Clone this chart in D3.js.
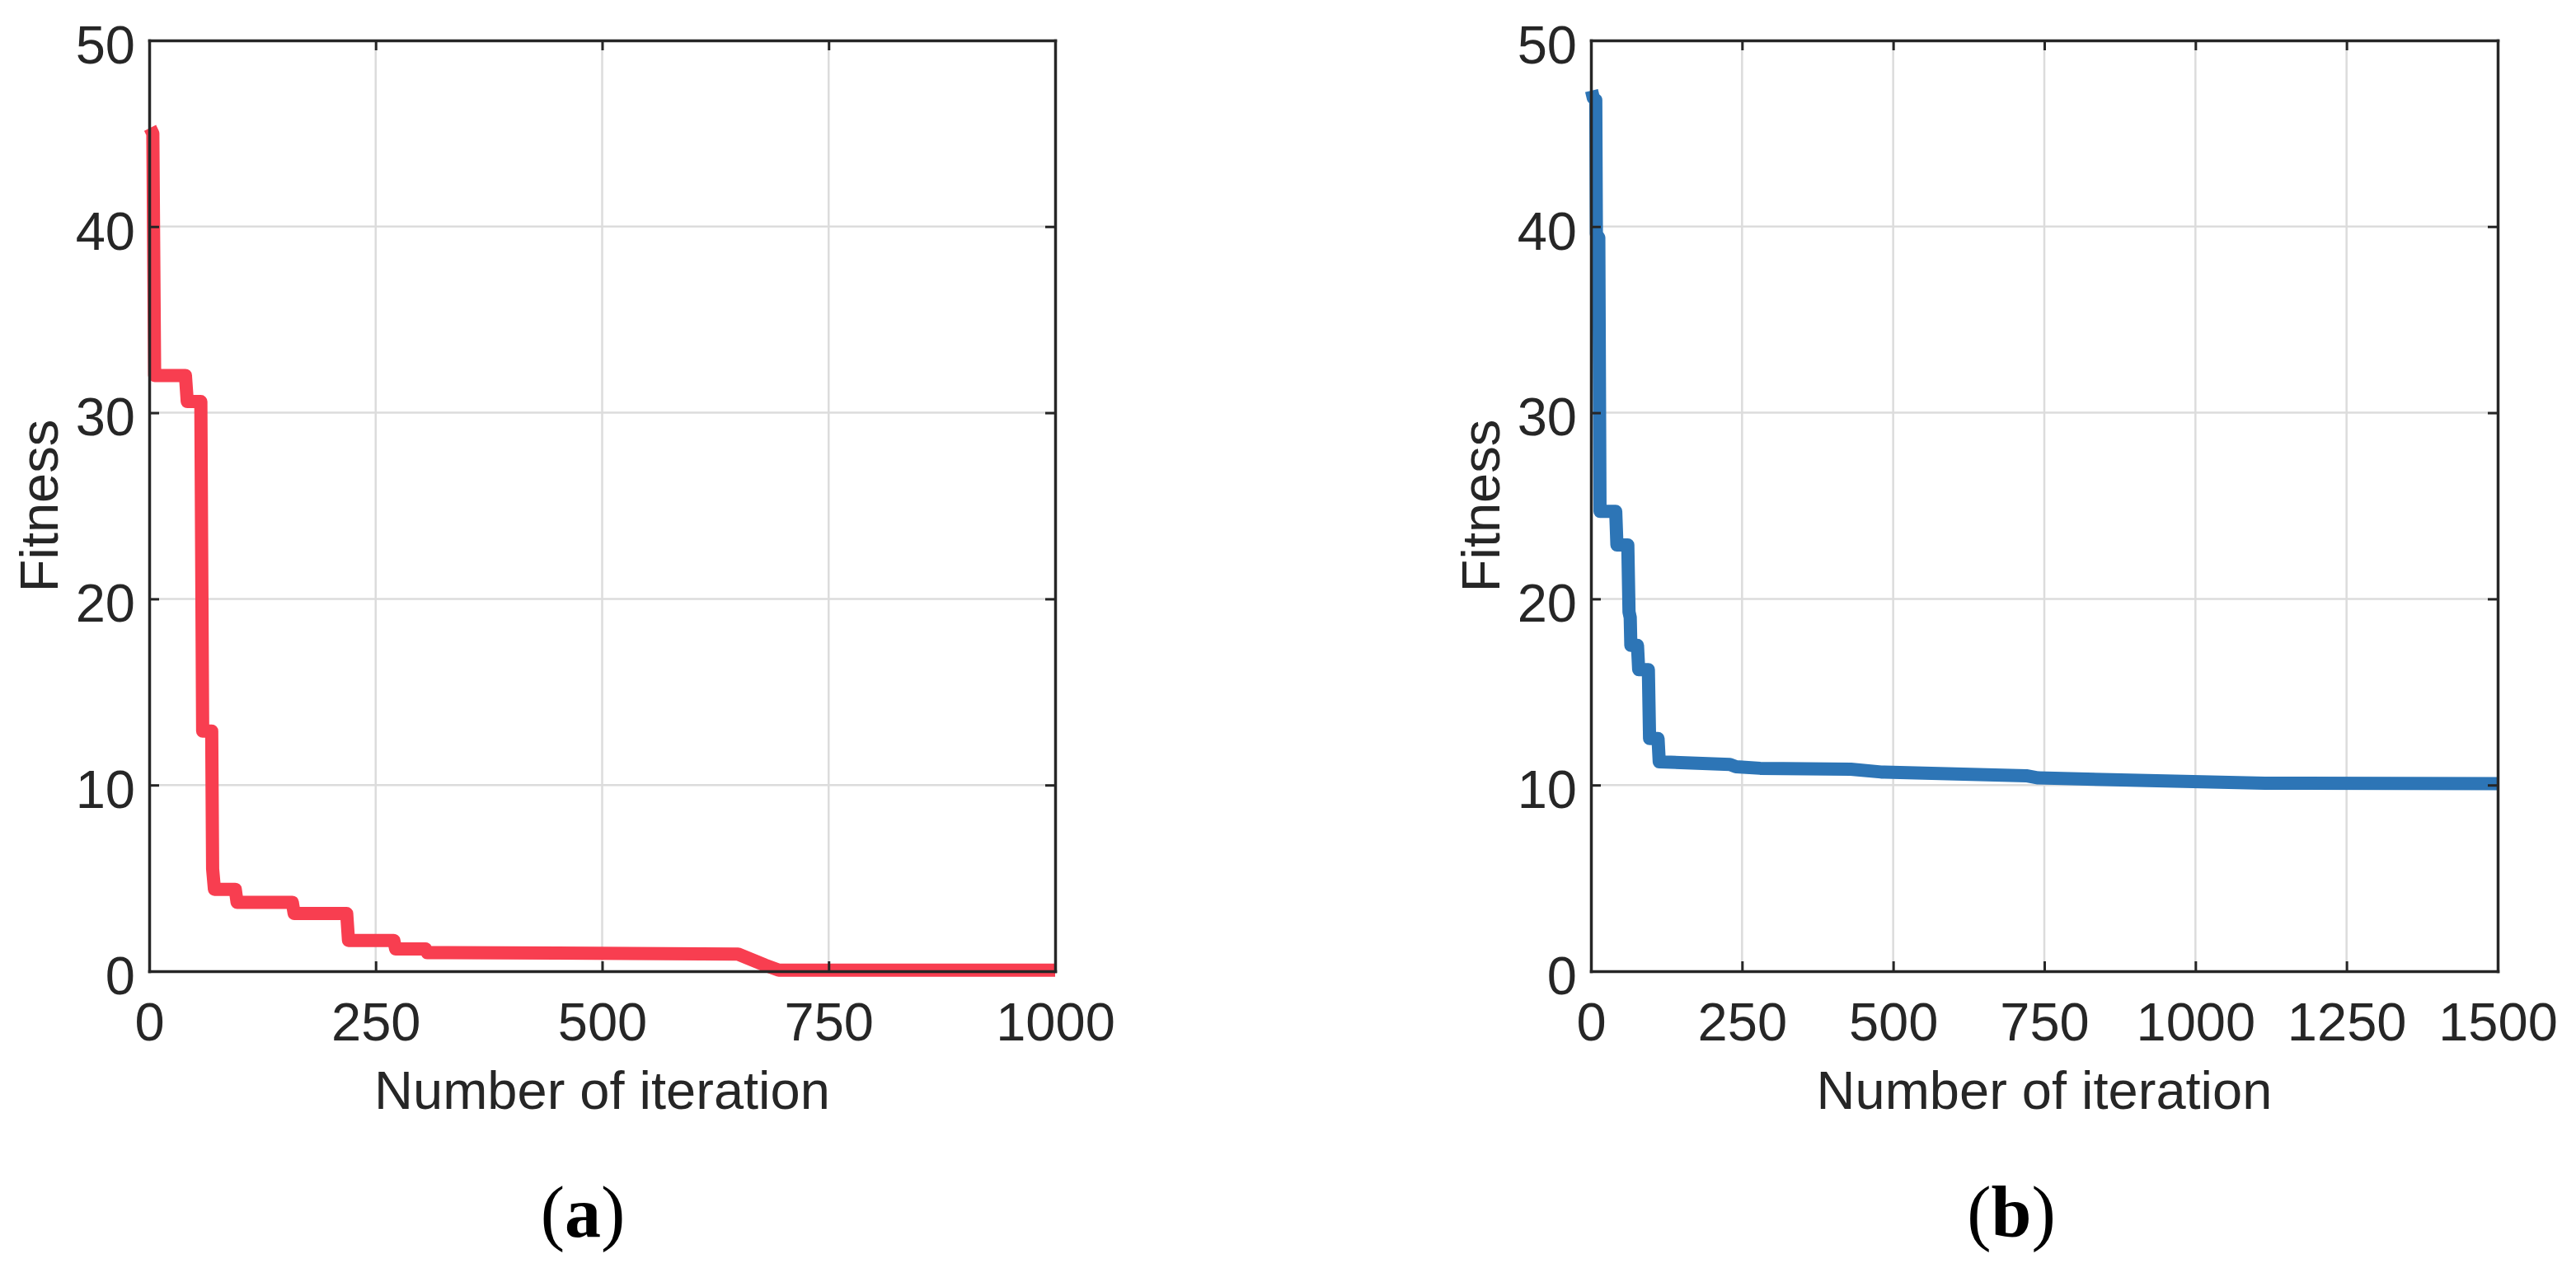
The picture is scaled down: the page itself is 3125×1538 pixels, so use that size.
<!DOCTYPE html>
<html>
<head>
<meta charset="utf-8">
<script src="https://cdn.jsdelivr.net/npm/d3@7"></script>
<style>
  html, body { margin: 0; padding: 0; background: #fff; }
  svg { display: block; }
  text { font-family: "Liberation Sans", Arial, Helvetica, sans-serif; fill: #262626; }
</style>
</head>
<body>
<svg id="chart" width="3125" height="1538"></svg>
<script>
// ---- data ----
const iterA = [1, 4, 6, 40, 42, 57, 59, 69, 70, 72, 95, 97, 158, 160, 218, 220, 270, 272, 305, 307, 330, 450, 650, 660, 670, 680, 695, 1000];
const fitA  = [45.3, 45.0, 32.0, 32.0, 30.6, 30.6, 12.9, 12.9, 5.5, 4.4, 4.4, 3.7, 3.7, 3.1, 3.1, 1.65, 1.65, 1.2, 1.2, 1.0, 1.0, 0.97, 0.92, 0.72, 0.52, 0.32, 0.05, 0.05];

const iterB = [1, 4, 8, 9, 13, 15, 41, 43, 61, 63, 65, 66, 77, 79, 95, 97, 111, 113, 230, 240, 280, 430, 480, 720, 740, 1115, 1500];
const fitB  = [47.3, 46.9, 46.8, 39.6, 39.4, 24.7, 24.7, 22.9, 22.9, 19.3, 19.0, 17.5, 17.5, 16.2, 16.2, 12.5, 12.5, 11.25, 11.1, 10.98, 10.9, 10.85, 10.7, 10.5, 10.38, 10.1, 10.08];

const yTicks  = [0, 10, 20, 30, 40, 50];
const xTicksA = [0, 250, 500, 750, 1000];
const xTicksB = [0, 250, 500, 750, 1000, 1250, 1500];

const panels = [
  { iter: iterA, fit: fitA, xMax: 1000, xTicks: xTicksA, color: "#F83E50", left: 181, right: 1280, label: "a", labelX: 707 },
  { iter: iterB, fit: fitB, xMax: 1500, xTicks: xTicksB, color: "#2D75B6", left: 1930, right: 3030, label: "b", labelX: 2440 }
];

const svg = d3.select("#chart");
const plotTop = 49, plotBottom = 1178;
const axisColor = "#262626";
const fs = 65;

panels.forEach(p => {
  const x = d3.scaleLinear().domain([0, p.xMax]).range([p.left, p.right]);
  const y = d3.scaleLinear().domain([0, 50]).range([plotBottom, plotTop]);
  const g = svg.append("g");

  // gridlines
  g.append("g").selectAll("line").data(p.xTicks.slice(1, -1)).join("line")
    .attr("x1", d => x(d)).attr("x2", d => x(d))
    .attr("y1", plotTop).attr("y2", plotBottom)
    .attr("stroke", "#dcdcdc").attr("stroke-width", 2.5);
  g.append("g").selectAll("line").data(yTicks.slice(1, -1)).join("line")
    .attr("x1", p.left).attr("x2", p.right)
    .attr("y1", d => y(d)).attr("y2", d => y(d))
    .attr("stroke", "#dcdcdc").attr("stroke-width", 2.5);

  // data line
  const pts = p.iter.map((v, i) => [v, p.fit[i]]);
  g.append("path").datum(pts)
    .attr("fill", "none")
    .attr("stroke", p.color)
    .attr("stroke-width", 16)
    .attr("stroke-linejoin", "round")
    .attr("stroke-linecap", "butt")
    .attr("d", d3.line().x(d => x(d[0])).y(d => y(d[1])));

  // axes
  const styleAxis = sel => {
    sel.selectAll(".domain").attr("stroke", axisColor).attr("stroke-width", 3.5);
    sel.selectAll(".tick line").attr("stroke", axisColor).attr("stroke-width", 3);
    sel.selectAll(".tick text").attr("fill", axisColor)
      .style("font-size", fs + "px")
      .style("font-family", '"Liberation Sans", Arial, Helvetica, sans-serif');
  };

  const bx = g.append("g").attr("transform", `translate(0,${plotBottom})`)
    .call(d3.axisBottom(x).tickValues(p.xTicks).tickFormat(d3.format("d")).tickSizeInner(-12).tickSizeOuter(0).tickPadding(38));
  styleAxis(bx);
  const tx = g.append("g").attr("transform", `translate(0,${plotTop})`)
    .call(d3.axisTop(x).tickValues(p.xTicks).tickFormat("").tickSizeInner(-12).tickSizeOuter(0));
  styleAxis(tx);
  const ly = g.append("g").attr("transform", `translate(${p.left},0)`)
    .call(d3.axisLeft(y).tickValues(yTicks).tickFormat(d3.format("d")).tickSizeInner(-12).tickSizeOuter(0).tickPadding(17));
  styleAxis(ly);
  ly.selectAll(".tick text").attr("dy", "0.42em");
  const ry = g.append("g").attr("transform", `translate(${p.right},0)`)
    .call(d3.axisRight(y).tickValues(yTicks).tickFormat("").tickSizeInner(-12).tickSizeOuter(0));
  styleAxis(ry);
  g.selectAll(".domain").attr("stroke-linecap", "square");

  // axis titles
  g.append("text")
    .attr("x", (p.left + p.right) / 2).attr("y", 1345)
    .attr("text-anchor", "middle")
    .style("font-size", fs + "px")
    .text("Number of iteration");
  g.append("text")
    .attr("transform", `translate(${p.left - 111},${(plotTop + plotBottom) / 2}) rotate(-90)`)
    .attr("text-anchor", "middle")
    .style("font-size", fs + "px")
    .text("Fitness");

  // panel label
  const lab = g.append("text")
    .attr("x", p.labelX).attr("y", 1500)
    .attr("text-anchor", "middle")
    .style("font-family", '"Liberation Serif", "Times New Roman", serif')
    .style("font-size", "88px")
    .style("font-weight", "normal")
    .style("fill", "#000");
  lab.append("tspan").text("(");
  lab.append("tspan").style("font-weight", "bold").text(p.label);
  lab.append("tspan").text(")");
});
</script>
</body>
</html>
